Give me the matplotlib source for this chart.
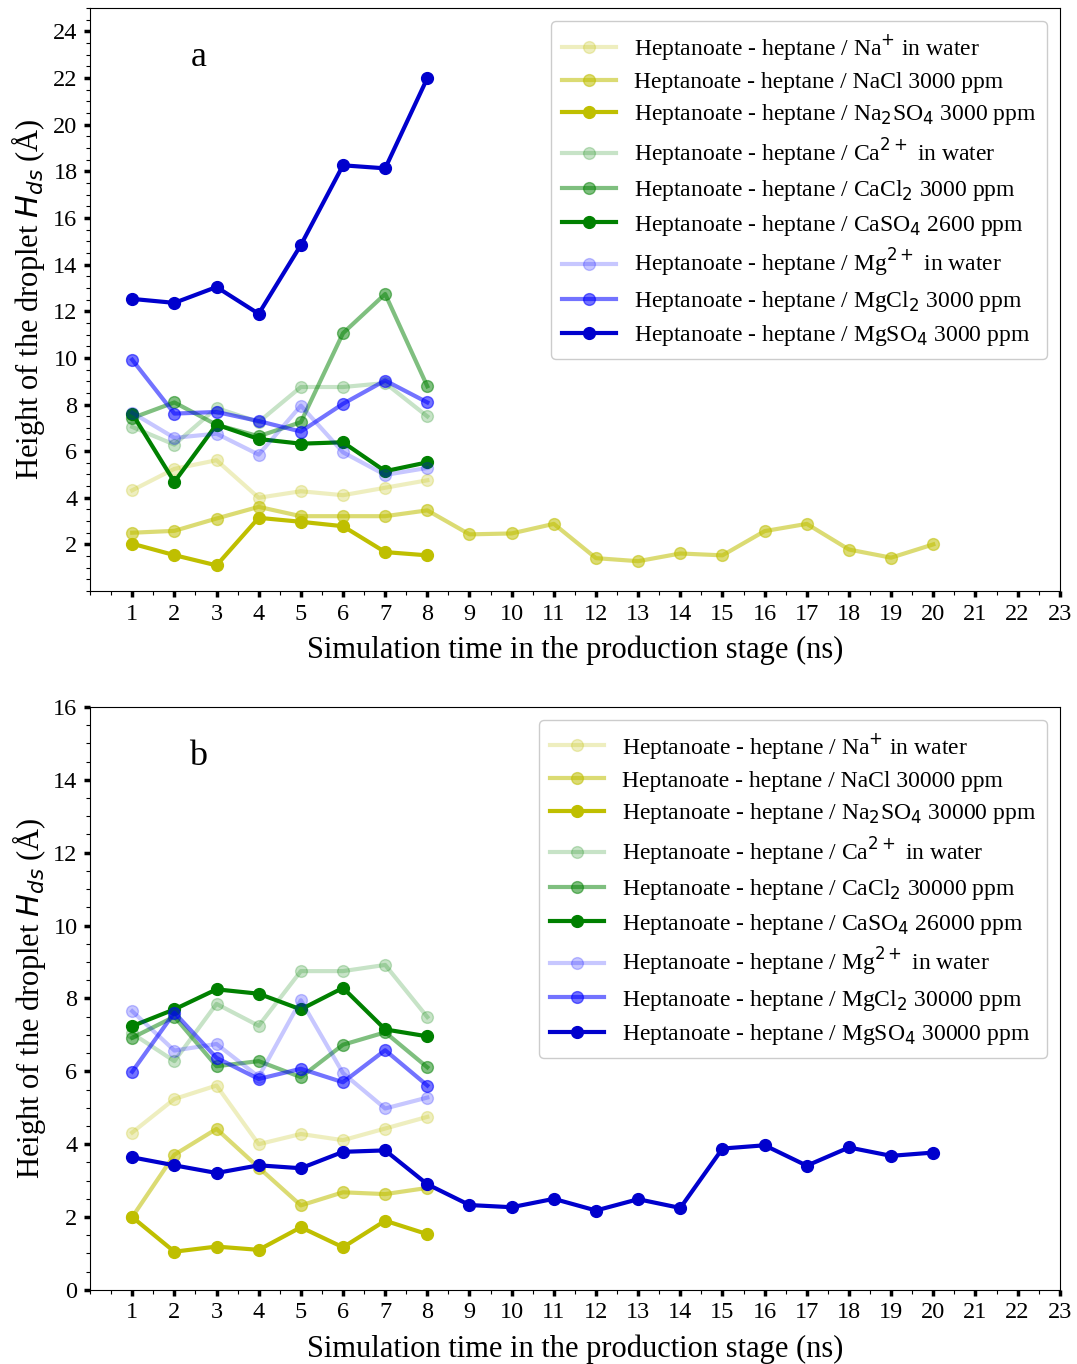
import matplotlib
matplotlib.use('Agg')
import matplotlib.pyplot as plt
from matplotlib.ticker import MultipleLocator

plt.rcParams['font.family'] = ['Liberation Serif', 'DejaVu Serif']
plt.rcParams['mathtext.fontset'] = 'dejavusans'

# время моделирования, нс
t8 = [1, 2, 3, 4, 5, 6, 7, 8]
t20 = list(range(1, 21))

# серии "in water" одинаковы для обеих панелей
na_water = [4.32, 5.24, 5.61, 4.0, 4.28, 4.11, 4.43, 4.75]
ca_water = [7.04, 6.28, 7.85, 7.25, 8.75, 8.75, 8.92, 7.49]
mg_water = [7.65, 6.57, 6.75, 5.85, 7.95, 5.95, 4.98, 5.28]

# панель a: 3000 ppm
nacl_a = [2.50, 2.58, 3.11, 3.61, 3.21, 3.21, 3.21, 3.46, 2.43, 2.47,
          2.88, 1.41, 1.28, 1.61, 1.53, 2.57, 2.88, 1.78, 1.43, 2.0]
na2so4_a = [2.03, 1.54, 1.10, 3.14, 2.97, 2.78, 1.67, 1.53]
cacl2_a = [7.42, 8.09, 7.13, 6.64, 7.24, 11.06, 12.74, 8.78]
caso4_a = [7.61, 4.68, 7.14, 6.52, 6.32, 6.38, 5.14, 5.52]
mgcl2_a = [9.92, 7.61, 7.68, 7.29, 6.84, 8.03, 9.03, 8.09]
mgso4_a = [12.53, 12.36, 13.04, 11.89, 14.84, 18.26, 18.13, 22.0]

# панель b: 30000 ppm
nacl_b = [2.0, 3.71, 4.42, 3.36, 2.32, 2.68, 2.63, 2.80]
na2so4_b = [2.0, 1.05, 1.19, 1.10, 1.72, 1.17, 1.90, 1.53]
cacl2_b = [6.92, 7.50, 6.14, 6.28, 5.84, 6.73, 7.07, 6.11]
caso4_b = [7.24, 7.70, 8.25, 8.13, 7.70, 8.29, 7.15, 6.96]
mgcl2_b = [5.99, 7.61, 6.37, 5.79, 6.07, 5.70, 6.58, 5.61]
mgso4_b = [3.64, 3.42, 3.21, 3.42, 3.34, 3.79, 3.83, 2.90, 2.33, 2.27,
           2.50, 2.18, 2.49, 2.25, 3.88, 3.97, 3.41, 3.91, 3.68, 3.77]

labels_a = [r'Heptanoate - heptane / Na$^{+}$ in water',
            'Heptanoate - heptane / NaCl 3000 ppm',
            r'Heptanoate - heptane / Na$_{2}$SO$_{4}$ 3000 ppm',
            r'Heptanoate - heptane / Ca$^{2+}$ in water',
            r'Heptanoate - heptane / CaCl$_{2}$ 3000 ppm',
            r'Heptanoate - heptane / CaSO$_{4}$ 2600 ppm',
            r'Heptanoate - heptane / Mg$^{2+}$ in water',
            r'Heptanoate - heptane / MgCl$_{2}$ 3000 ppm',
            r'Heptanoate - heptane / MgSO$_{4}$ 3000 ppm']
labels_b = [r'Heptanoate - heptane / Na$^{+}$ in water',
            'Heptanoate - heptane / NaCl 30000 ppm',
            r'Heptanoate - heptane / Na$_{2}$SO$_{4}$ 30000 ppm',
            r'Heptanoate - heptane / Ca$^{2+}$ in water',
            r'Heptanoate - heptane / CaCl$_{2}$ 30000 ppm',
            r'Heptanoate - heptane / CaSO$_{4}$ 26000 ppm',
            r'Heptanoate - heptane / Mg$^{2+}$ in water',
            r'Heptanoate - heptane / MgCl$_{2}$ 30000 ppm',
            r'Heptanoate - heptane / MgSO$_{4}$ 30000 ppm']

colors = ['y', 'y', 'y', 'g', 'g', 'g', 'b', 'b', 'mediumblue']
alphas = [0.25, 0.55, 1.0, 0.22, 0.5, 1.0, 0.22, 0.55, 1.0]


def draw_panel(ax, series, labels, ymax, letter, letter_y):
    for (x, y), lab, c, a in zip(series, labels, colors, alphas):
        ax.plot(x, y, '-o', color=c, alpha=a, lw=3, ms=8.5, label=lab)
    ax.set_xlim(0, 23)
    ax.set_ylim(0, ymax)
    ax.xaxis.set_major_locator(MultipleLocator(1))
    ax.xaxis.set_minor_locator(MultipleLocator(0.5))
    ax.yaxis.set_major_locator(MultipleLocator(2))
    ax.yaxis.set_minor_locator(MultipleLocator(0.5))
    ax.tick_params(which='major', length=4, width=2.5, labelsize=17.5, pad=5)
    ax.tick_params(which='minor', length=3, width=0.8)
    ax.set_xticks(range(1, 24))
    ax.set_xlabel('Simulation time in the production stage (ns)', fontsize=22, labelpad=8)
    ax.set_ylabel(r'Height of the droplet $H_{ds}$ (Å)', fontsize=22, labelpad=4)
    ax.text(2.57, letter_y, letter, fontsize=26, ha='center', va='center')
    ax.legend(loc='upper right', fontsize=17, handlelength=2.3, handletextpad=0.75,
              labelspacing=0.4, borderpad=0.45, borderaxespad=0.55, framealpha=1,
              edgecolor='#cccccc')


fig = plt.figure(figsize=(10.77, 13.64), dpi=100)
ax1 = fig.add_axes([0.0836, 0.5667, 0.9004, 0.4273])
ax2 = fig.add_axes([0.0836, 0.0543, 0.9004, 0.4274])

series_a = [(t8, na_water), (t20, nacl_a), (t8, na2so4_a),
            (t8, ca_water), (t8, cacl2_a), (t8, caso4_a),
            (t8, mg_water), (t8, mgcl2_a), (t8, mgso4_a)]
series_b = [(t8, na_water), (t8, nacl_b), (t8, na2so4_b),
            (t8, ca_water), (t8, cacl2_b), (t8, caso4_b),
            (t8, mg_water), (t8, mgcl2_b), (t20, mgso4_b)]

draw_panel(ax1, series_a, labels_a, 25, 'a', 22.9)
ax1.set_yticks(range(2, 25, 2))
draw_panel(ax2, series_b, labels_b, 16, 'b', 14.65)

fig.savefig('out.png', dpi=100)
